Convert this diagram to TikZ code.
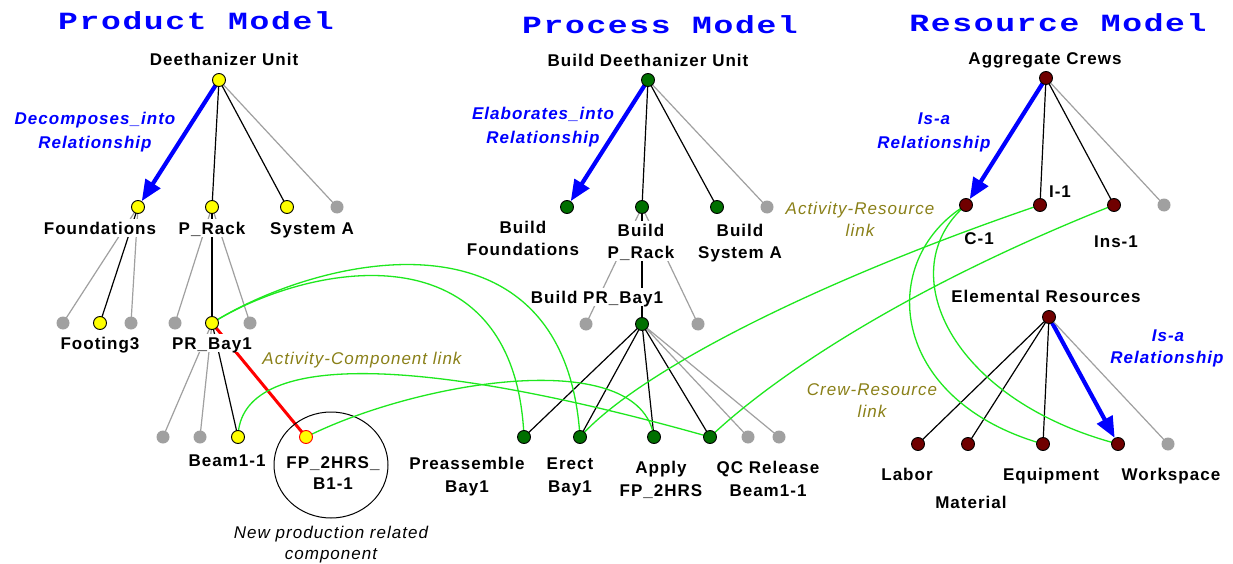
\documentclass[tikz,border=0pt]{standalone}
\usepackage{fontspec}
\setmainfont{Liberation Sans}
\newfontfamily\labfont[LetterSpace=6]{Liberation Sans}
\newfontfamily\titlefont[LetterSpace=5]{Liberation Mono}
\usetikzlibrary{arrows.meta,shapes.geometric}

\pgfdeclarelayer{edges}
\pgfdeclarelayer{labels}
\pgfdeclarelayer{links}
\pgfsetlayers{edges,labels,links,main}

\definecolor{nodeyellow}{RGB}{255,255,0}
\definecolor{nodegreen}{RGB}{0,112,0}
\definecolor{nodered}{RGB}{112,0,0}
\definecolor{stubgray}{RGB}{160,160,160}
\definecolor{relblue}{RGB}{0,0,255}
\definecolor{linkolive}{RGB}{138,128,24}
\definecolor{linkgreen}{RGB}{30,232,30}
\definecolor{compred}{RGB}{255,0,0}

\newcommand{\squash}[1]{\scalebox{1}[0.75]{#1}}

\tikzset{
  dot/.style={circle, draw=black, line width=0.9pt, minimum size=13pt, inner sep=0pt},
  prod/.style={dot, fill=nodeyellow},
  proc/.style={dot, fill=nodegreen},
  res/.style={dot, fill=nodered},
  newcomp/.style={dot, fill=nodeyellow, draw=compred},
  stub/.style={circle, fill=stubgray, minimum size=13pt, inner sep=0pt},
  lab/.style={font=\labfont\fontsize{17}{20}\selectfont\bfseries, text height=12.2pt,
    text depth=0pt, inner xsep=2pt, inner ysep=3pt, fill=white},
  labtail/.style={lab, text height=18pt, anchor=base},
  rel/.style={font=\labfont\fontsize{17}{20}\selectfont\bfseries\itshape, text=relblue,
    text height=12.2pt, text depth=0pt, inner sep=1pt},
  linklab/.style={font=\labfont\fontsize{17}{20}\selectfont\itshape, text=linkolive,
    text height=12.2pt, text depth=0pt, inner sep=1pt},
  note/.style={font=\labfont\fontsize{17}{20}\selectfont\itshape, text=black,
    text height=12.2pt, text depth=0pt, inner sep=1pt},
  title/.style={font=\titlefont\fontsize{33}{36}\selectfont\bfseries, text=relblue,
    text height=16.3pt, text depth=0pt, inner sep=0pt},
  tree/.style={line width=1.2pt, black},
  stubline/.style={line width=1.2pt, stubgray},
  relarrow/.style={line width=4.2pt, relblue, -{Triangle[length=21pt,width=17pt]}},
  complink/.style={line width=3pt, compred},
  xlink/.style={line width=1.3pt, linkgreen},
}

\begin{document}
\begin{tikzpicture}[x=1pt, y=-1pt]
\begin{pgfonlayer}{edges}
  \fill[white] (0,0) rectangle (1233,564);
\end{pgfonlayer}
\useasboundingbox (0,0) rectangle (1233,564);

% ---------------- product model nodes ----------------
\node[prod] (pDU) at (219,80) {};
\node[prod] (pFo) at (138,207) {};
\node[prod] (pPR) at (212,207) {};
\node[prod] (pSA) at (287,207) {};
\node[stub] (pS1) at (337,207) {};
\node[stub] (pS2) at (63,323) {};
\node[prod] (pF3) at (100,323) {};
\node[stub] (pS3) at (131,323) {};
\node[stub] (pS4) at (175,323) {};
\node[prod] (pPB) at (212,323) {};
\node[stub] (pS5) at (250,323) {};
\node[stub] (pS6) at (163,437) {};
\node[stub] (pS7) at (200,437) {};
\node[prod] (pBm) at (238,437) {};
\node[newcomp] (pFP) at (306,437) {};

% ---------------- process model nodes ----------------
\node[proc] (cDU) at (648,80) {};
\node[proc] (cBF) at (567,207) {};
\node[proc] (cBP) at (642,207) {};
\node[proc] (cBS) at (717,207) {};
\node[stub] (cS1) at (767,207) {};
\node[stub] (cS2) at (586,324) {};
\node[proc] (cPB) at (642,324) {};
\node[stub] (cS3) at (698,324) {};
\node[proc] (cPA) at (524,437) {};
\node[proc] (cER) at (580,437) {};
\node[proc] (cAP) at (654,437) {};
\node[proc] (cQC) at (710,437) {};
\node[stub] (cS4) at (748,437) {};
\node[stub] (cS5) at (779,437) {};

% ---------------- resource model nodes ----------------
\node[res] (rAC) at (1046,78) {};
\node[res] (rC1) at (966,205) {};
\node[res] (rI1) at (1040,205) {};
\node[res] (rIn) at (1114,205) {};
\node[stub] (rS1) at (1164,205) {};
\node[res] (rEL) at (1049,317) {};
\node[res] (rLa) at (918,444) {};
\node[res] (rMa) at (968,444) {};
\node[res] (rEq) at (1043,444) {};
\node[res] (rWs) at (1118,444) {};
\node[stub] (rS2) at (1168,444) {};

% ---------------- hierarchy edges ----------------
\begin{pgfonlayer}{edges}
  % product
  \draw[relarrow] (pDU.center) -- (pFo);
  \draw[tree] (pDU.center) -- (pPR.center) (pDU.center) -- (pSA.center);
  \draw[stubline] (pDU.center) -- (pS1.center);
  \draw[stubline] (pFo.center) -- (pS2.center) (pFo.center) -- (pS3.center);
  \draw[tree] (pFo.center) -- (pF3.center);
  \draw[stubline] (pPR.center) -- (pS4.center) (pPR.center) -- (pS5.center);
  \draw[tree] (pPR.center) -- (pPB.center);
  \draw[stubline] (pPB.center) -- (pS6.center) (pPB.center) -- (pS7.center);
  \draw[tree] (pPB.center) -- (pBm.center);
  \draw[complink] (pPB.center) -- (pFP.center);
  % process
  \draw[relarrow] (cDU.center) -- (cBF);
  \draw[tree] (cDU.center) -- (cBP.center) (cDU.center) -- (cBS.center);
  \draw[stubline] (cDU.center) -- (cS1.center);
  \draw[stubline] (cBP.center) -- (cS2.center) (cBP.center) -- (cS3.center);
  \draw[tree] (cBP.center) -- (cPB.center);
  \draw[tree] (cPB.center) -- (cPA.center) (cPB.center) -- (cER.center)
              (cPB.center) -- (cAP.center) (cPB.center) -- (cQC.center);
  \draw[stubline] (cPB.center) -- (cS4.center) (cPB.center) -- (cS5.center);
  % resource
  \draw[relarrow] (rAC.center) -- (rC1);
  \draw[tree] (rAC.center) -- (rI1.center) (rAC.center) -- (rIn.center);
  \draw[stubline] (rAC.center) -- (rS1.center);
  \draw[tree] (rEL.center) -- (rLa.center) (rEL.center) -- (rMa.center)
              (rEL.center) -- (rEq.center);
  \draw[relarrow] (rEL.center) -- (rWs);
  \draw[stubline] (rEL.center) -- (rS2.center);
\end{pgfonlayer}

% ---------------- texts ----------------
\begin{pgfonlayer}{labels}
  \node[title] (tProd) at (196,21) {\squash{Product Model}};
  \node[title] (tProc) at (660,25) {\squash{Process Model}};
  \node[title] (tRes) at (1058,23) {\squash{Resource Model}};

  % product
  \node[lab] (lDU) at (224,59) {Deethanizer Unit};
  \node[rel] (lDec1) at (95,118) {Decomposes\_into};
  \node[rel] (lDec2) at (95,142) {Relationship};
  \node[lab] (lFo) at (100,228) {Foundations};
  \node[lab] (lPR) at (212,228) {P\_Rack};
  \node[lab] (lSA) at (312,228) {System A};
  \node[lab] (lF3) at (100,343) {Footing3};
  \node[lab] (lPB) at (212,343) {PR\_Bay1};
  \node[lab] (lBm) at (227,460) {Beam1-1};
  \node[lab] (lFP1) at (333,462) {FP\_2HRS\_};
  \node[lab] (lFP2) at (333,483) {B1-1};
  \node[note] (lNew1) at (331,532) {New production related};
  \node[note] (lNew2) at (331,553) {component};
  \node[linklab] (lAC) at (362,358) {Activity-Component link};

  % process
  \node[lab] (lBDU) at (648,60) {Build Deethanizer Unit};
  \node[rel] (lEla1) at (543,113) {Elaborates\_into};
  \node[rel] (lEla2) at (543,137) {Relationship};
  \node[lab] (lBF1) at (523,227) {Build};
  \node[lab] (lBF2) at (523,249) {Foundations};
  \node[lab] (lBP1) at (641,230) {Build};
  \node[labtail] (lBP2) at (641,258.1) {P\_Rack};
  \node[lab] (lBS1) at (740,230) {Build};
  \node[lab] (lBS2) at (740,252) {System A};
  \node[lab] (lBPB) at (597,297) {Build PR\_Bay1};
  \node[lab] (lPA1) at (467,463) {Preassemble};
  \node[lab] (lPA2) at (467,486) {Bay1};
  \node[lab] (lER1) at (570,463) {Erect};
  \node[lab] (lER2) at (570,486) {Bay1};
  \node[lab] (lAP1) at (661,467) {Apply};
  \node[lab] (lAP2) at (661,490) {FP\_2HRS};
  \node[lab] (lQC1) at (768,467) {QC Release};
  \node[lab] (lQC2) at (768,490) {Beam1-1};
  \node[linklab] (lAR1) at (860,208) {Activity-Resource};
  \node[linklab] (lAR2) at (860,230) {link};

  % resource
  \node[lab] (lAg) at (1045,58) {Aggregate Crews};
  \node[rel] (lIs1) at (934,118) {Is-a};
  \node[rel] (lIs2) at (934,142) {Relationship};
  \node[lab] (lC1) at (979,238) {C-1};
  \node[lab] (lI1) at (1060,191) {I-1};
  \node[lab] (lIn) at (1116,241) {Ins-1};
  \node[lab] (lEL) at (1046,296) {Elemental Resources};
  \node[rel] (lIs3) at (1168,335) {Is-a};
  \node[rel] (lIs4) at (1167,357) {Relationship};
  \node[linklab] (lCR1) at (872,389) {Crew-Resource};
  \node[linklab] (lCR2) at (872,411) {link};
  \node[lab] (lLa) at (907,474) {Labor};
  \node[lab] (lMa) at (971,502) {Material};
  \node[lab] (lEq) at (1051,474) {Equipment};
  \node[lab] (lWs) at (1171,474) {Workspace};
\end{pgfonlayer}

% ---------------- cross-model links ----------------
\begin{pgfonlayer}{links}
  \node[draw=black, line width=1pt, ellipse, minimum width=114pt, minimum height=106pt,
        inner sep=0pt] (ring) at (331,465) {};
  \draw[xlink] (pPB.center) .. controls (320,255) and (565,200) .. (cER.center);
  \draw[xlink] (pPB.center) .. controls (310,262) and (515,225) .. (cPA.center);
  \draw[xlink] (pBm.center) .. controls (240,350) and (420,355) .. (cQC.center);
  \draw[xlink] (pFP.center) .. controls (420,380) and (640,345) .. (cAP.center);
  \draw[xlink] (cER.center) .. controls (640,370) and (820,280) .. (rI1.center);
  \draw[xlink] (cQC.center) .. controls (770,380) and (900,290) .. (rIn.center);
  \draw[xlink] (rC1.center) .. controls (876,260) and (888,400) .. (rEq.center);
  \draw[xlink] (rC1.center) .. controls (890,270) and (950,400) .. (rWs.center);
\end{pgfonlayer}
\end{tikzpicture}
\end{document}
